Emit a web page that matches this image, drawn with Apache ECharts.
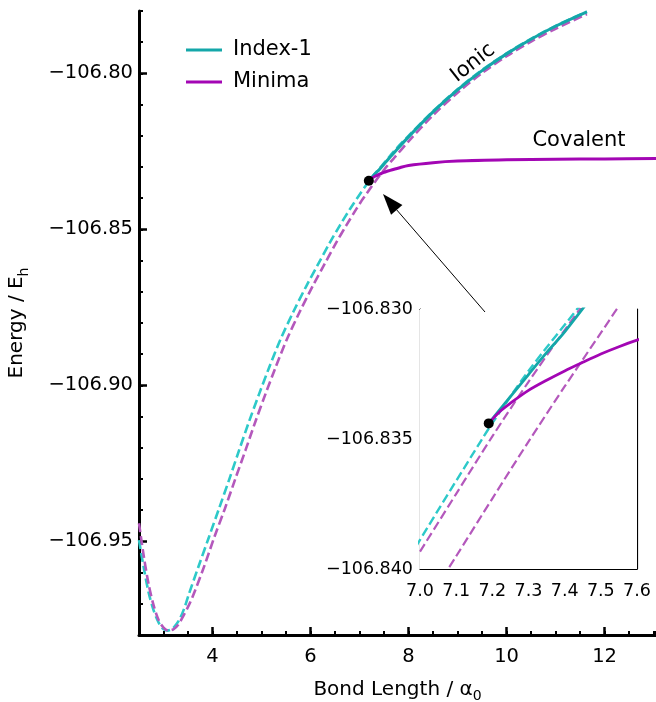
<!DOCTYPE html>
<html>
<head>
<meta charset="utf-8">
<script src="https://cdn.jsdelivr.net/npm/echarts@6/dist/echarts.min.js"></script>
<style>
  html, body { margin: 0; padding: 0; background: #fff; }
  #chart { width: 656px; height: 702px; }
</style>
</head>
<body>
<div id="chart"></div>
<script>
// main panel, x ticks / y ticks
var xTicksMain = [4, 6, 8, 10, 12]
var yTicksMain = [-106.95, -106.90, -106.85, -106.80]

// Index-1 reference (dashed teal)
var tealDashX = [2.5, 2.6, 2.7, 2.8, 2.9, 2.95, 3.0, 3.08, 3.15, 3.22, 3.32, 3.42, 3.52, 3.72, 3.93, 4.13, 4.34, 4.54, 4.75, 4.95, 5.15, 5.38, 5.65, 5.92, 6.15, 6.4, 6.6, 6.8, 7.0, 7.17, 7.2, 7.3, 7.45, 7.7, 8.0, 8.5, 9.0, 9.5, 10.0, 10.5, 11.0, 11.64]
var tealDashE = [-106.9496, -106.9587, -106.9666, -106.9722, -106.9760, -106.9773, -106.9781, -106.9786, -106.9783, -106.9774, -106.9752, -106.9716, -106.9668, -106.9578, -106.9485, -106.9396, -106.9302, -106.9209, -106.9114, -106.9028, -106.8945, -106.8855, -106.8764, -106.8680, -106.8613, -106.8541, -106.8487, -106.8436, -106.83888, -106.83504, -106.83439, -106.83238, -106.82972, -106.8250, -106.8200, -106.8121, -106.8051, -106.7989, -106.7936, -106.7889, -106.7848, -106.7802]

// Minima reference (dashed purple)
var purpDashX = [2.5, 2.6, 2.7, 2.8, 2.9, 3.0, 3.1, 3.2, 3.3, 3.4, 3.5, 3.6, 3.83, 4.04, 4.25, 4.46, 4.67, 4.88, 5.08, 5.28, 5.51, 5.78, 6.05, 6.28, 6.53, 6.73, 6.93, 7.05, 7.1, 7.2, 7.3, 7.4, 7.5, 7.56, 7.7, 8.0, 8.5, 9.0, 9.5, 10.0, 10.5, 11.0, 11.64]
var purpDashE = [-106.9442, -106.9550, -106.9640, -106.9706, -106.9752, -106.9776, -106.9786, -106.9782, -106.9767, -106.9740, -106.9710, -106.9675, -106.9580, -106.9485, -106.9396, -106.9302, -106.9209, -106.9114, -106.9028, -106.8945, -106.8855, -106.8764, -106.8680, -106.8613, -106.8541, -106.8487, -106.8436, -106.84062, -106.83951, -106.83729, -106.83510, -106.83298, -106.83092, -106.82970, -106.8272, -106.8218, -106.8134, -106.8062, -106.7999, -106.7945, -106.7898, -106.7857, -106.7810]

// second dashed purple, only seen in the inset
var purpNearX = [7.0, 7.1, 7.2, 7.3, 7.4, 7.46]
var purpNearE = [-106.83933, -106.83711, -106.83490, -106.83280, -106.83081, -106.82967]

// Index-1 (solid teal) - ionic branch
var index1X = [7.19, 7.25, 7.3, 7.35, 7.4, 7.55, 7.7, 8.0, 8.5, 9.0, 9.5, 10.0, 10.5, 11.0, 11.64]
var index1E = [-106.8344, -106.83337, -106.83252, -106.83168, -106.83088, -106.82817, -106.82551, -106.82035, -106.81235, -106.8053, -106.79912, -106.79374, -106.78904, -106.78489, -106.78028]

// Minima (solid purple) - covalent branch
var minimaX = [7.19, 7.22, 7.25, 7.3, 7.35, 7.4, 7.45, 7.5, 7.55, 7.6, 7.8, 8.0, 8.5, 9.0, 10.0, 11.0, 12.0, 13.05]
var minimaE = [-106.8344, -106.83395, -106.83362, -106.83313, -106.83274, -106.83238, -106.83205, -106.83173, -106.83145, -106.83120, -106.8303, -106.8295, -106.8286, -106.8281, -106.8277, -106.8275, -106.8274, -106.8273]

var crossing = [7.19, -106.8344]

var FONT = 'DejaVu Sans'
var TEAL = '#14a7a9'
var TEAL_D = '#2dc9c9'
var PURP = '#a306b4'
var PURP_D = '#b458bc'

function zip (xs, ys) {
  var out = []
  for (var i = 0; i < xs.length; i++) out.push([xs[i], ys[i]])
  return out
}
function minus (s) { return s.replace('-', '\u2212') }

function lineSeries (name, xs, ys, color, width, dashed, xi, yi, z) {
  return {
    name: name,
    type: 'line',
    xAxisIndex: xi,
    yAxisIndex: yi,
    data: zip(xs, ys),
    showSymbol: false,
    symbol: 'none',
    smooth: 0.3,
    clip: true,
    z: z,
    lineStyle: { color: color, width: width, type: dashed ? [9, 4] : 'solid' },
    itemStyle: { color: color },
    emphasis: { disabled: true }
  }
}

// arrow from inset to the crossing point
var tail = [485, 312]
var tip = [383, 194]
var dx = tail[0] - tip[0], dy = tail[1] - tip[1]
var len = Math.sqrt(dx * dx + dy * dy)
var ux = dx / len, uy = dy / len
var headL = 21, headW = 7.5
var bx = tip[0] + ux * headL, by = tip[1] + uy * headL

var chart = echarts.init(document.getElementById('chart'))
chart.setOption({
  animation: false,
  textStyle: { fontFamily: FONT },
  grid: [
    { left: 139, top: 11, width: 517, height: 624, containLabel: false, outerBoundsMode: 'none' },
    { left: 420, top: 309, width: 217, height: 260, containLabel: false, outerBoundsMode: 'none', show: true, backgroundColor: '#fff', borderWidth: 0, z: 5 }
  ],
  legend: {
    orient: 'vertical',
    left: 186,
    top: 38,
    padding: 0,
    itemWidth: 36,
    itemHeight: 3,
    itemGap: 8,
    selectedMode: false,
    textStyle: { fontSize: 21, color: '#000', fontFamily: FONT, lineHeight: 24, padding: [0, 0, 0, 6] },
    data: [{ name: 'Index-1', icon: 'rect' }, { name: 'Minima', icon: 'rect' }]
  },
  xAxis: [
    {
      type: 'value', gridIndex: 0, min: 2.5, max: 13.05, position: 'bottom',
      axisLine: { show: true, onZero: false, lineStyle: { color: '#000', width: 3 } },
      axisTick: { show: true, inside: true, length: 8, customValues: xTicksMain, lineStyle: { color: '#000', width: 2.5 } },
      axisLabel: { customValues: xTicksMain, fontSize: 19.5, color: '#000', margin: 12, fontFamily: FONT },
      splitLine: { show: false },
      name: '{a|Bond Length / \u03b1}{s|0}',
      nameLocation: 'middle',
      nameGap: 42,
      nameTextStyle: {
        color: '#000',
        rich: {
          a: { fontSize: 20, fontFamily: FONT, color: '#000', lineHeight: 26 },
          s: { fontSize: 14, fontFamily: FONT, color: '#000', lineHeight: 14, verticalAlign: 'bottom' }
        }
      }
    },
    {
      type: 'value', gridIndex: 0, min: 2.5, max: 13.05, interval: 0.5, position: 'bottom',
      axisLine: { show: false },
      axisTick: { show: true, inside: true, length: 4, lineStyle: { color: '#000', width: 2 } },
      axisLabel: { show: false },
      splitLine: { show: false }
    },
    {
      type: 'value', gridIndex: 1, min: 7.0, max: 7.6, interval: 0.1, position: 'bottom',
      axisLine: { show: true, onZero: false, lineStyle: { color: '#000', width: 1.2 } },
      axisTick: { show: true, inside: true, length: 5, lineStyle: { color: '#000', width: 1 } },
      minorTick: { show: true, splitNumber: 5, length: 3, lineStyle: { color: '#000', width: 1 } },
      axisLabel: { fontSize: 17.5, color: '#000', margin: 13, fontFamily: FONT, formatter: function (v) { return v.toFixed(1) } },
      splitLine: { show: false }
    },
    {
      type: 'value', gridIndex: 1, min: 7.0, max: 7.6, interval: 0.1, position: 'top',
      axisLine: { show: true, onZero: false, lineStyle: { color: '#000', width: 1.2 } },
      axisTick: { show: true, inside: true, length: 5, lineStyle: { color: '#000', width: 1 } },
      minorTick: { show: true, splitNumber: 5, length: 3, lineStyle: { color: '#000', width: 1 } },
      axisLabel: { show: false },
      splitLine: { show: false }
    }
  ],
  yAxis: [
    {
      type: 'value', gridIndex: 0, min: -106.98, max: -106.78, position: 'left',
      axisLine: { show: true, onZero: false, lineStyle: { color: '#000', width: 3 } },
      axisTick: { show: true, inside: true, length: 8, customValues: yTicksMain, lineStyle: { color: '#000', width: 2.5 } },
      axisLabel: { customValues: yTicksMain, fontSize: 19.5, color: '#000', margin: 6, fontFamily: FONT, formatter: function (v) { return minus(v.toFixed(2)) } },
      splitLine: { show: false },
      name: '{a|Energy / E}{s|h}',
      nameLocation: 'middle',
      nameGap: 108,
      nameTextStyle: {
        color: '#000',
        rich: {
          a: { fontSize: 20, fontFamily: FONT, color: '#000', lineHeight: 28 },
          s: { fontSize: 14, fontFamily: FONT, color: '#000', lineHeight: 14, verticalAlign: 'bottom' }
        }
      }
    },
    {
      type: 'value', gridIndex: 0, min: -106.98, max: -106.78, interval: 0.01, position: 'left',
      axisLine: { show: false },
      axisTick: { show: true, inside: true, length: 4, lineStyle: { color: '#000', width: 2 } },
      axisLabel: { show: false },
      splitLine: { show: false }
    },
    {
      type: 'value', gridIndex: 1, min: -106.840, max: -106.830, interval: 0.005, position: 'left',
      axisLine: { show: true, onZero: false, lineStyle: { color: '#000', width: 1.2 } },
      axisTick: { show: true, inside: true, length: 5, lineStyle: { color: '#000', width: 1 } },
      minorTick: { show: true, splitNumber: 5, length: 5, lineStyle: { color: '#000', width: 1 } },
      axisLabel: { fontSize: 17.5, color: '#000', margin: 7, fontFamily: FONT, formatter: function (v) { return minus(v.toFixed(3)) } },
      splitLine: { show: false }
    },
    {
      type: 'value', gridIndex: 1, min: -106.840, max: -106.830, position: 'right',
      axisLine: { show: true, onZero: false, lineStyle: { color: '#000', width: 1.2 } },
      axisTick: { show: false },
      axisLabel: { show: false },
      splitLine: { show: false }
    }
  ],
  series: [
    // main panel
    lineSeries('Index-1 ref', tealDashX, tealDashE, TEAL_D, 2.6, true, 0, 0, 2),
    lineSeries('Minima ref', purpDashX, purpDashE, PURP_D, 2.6, true, 0, 0, 2),
    lineSeries('Index-1', index1X, index1E, TEAL, 3, false, 0, 0, 3),
    lineSeries('Minima', minimaX, minimaE, PURP, 3, false, 0, 0, 3),
    { type: 'scatter', xAxisIndex: 0, yAxisIndex: 0, data: [crossing], symbolSize: 10, itemStyle: { color: '#000', opacity: 1 }, z: 4, silent: true },
    // inset
    lineSeries('Index-1 ref', tealDashX, tealDashE, TEAL_D, 2.4, true, 2, 2, 6),
    lineSeries('Minima ref', purpNearX, purpNearE, PURP_D, 2.2, true, 2, 2, 6),
    lineSeries('Minima ref', purpDashX, purpDashE, PURP_D, 2.2, true, 2, 2, 6),
    lineSeries('Index-1', index1X, index1E, TEAL, 2.8, false, 2, 2, 7),
    lineSeries('Minima', minimaX, minimaE, PURP, 2.8, false, 2, 2, 7),
    { type: 'scatter', xAxisIndex: 2, yAxisIndex: 2, data: [crossing], symbolSize: 10, itemStyle: { color: '#000', opacity: 1 }, z: 8, silent: true }
  ],
  graphic: [
    { type: 'line', z: 20, shape: { x1: tail[0], y1: tail[1], x2: bx, y2: by }, style: { stroke: '#000', lineWidth: 1 } },
    { type: 'polygon', z: 20, shape: { points: [tip, [bx - uy * headW, by + ux * headW], [bx + uy * headW, by - ux * headW]] }, style: { fill: '#000' } },
    { type: 'text', z: 20, x: 473, y: 63, rotation: 38 * Math.PI / 180, style: { text: 'Ionic', fontSize: 21, fontFamily: FONT, fill: '#000', align: 'center', verticalAlign: 'middle' } },
    { type: 'text', z: 20, x: 579, y: 141, style: { text: 'Covalent', fontSize: 21, fontFamily: FONT, fill: '#000', align: 'center', verticalAlign: 'middle' } }
  ]
})
</script>
</body>
</html>
